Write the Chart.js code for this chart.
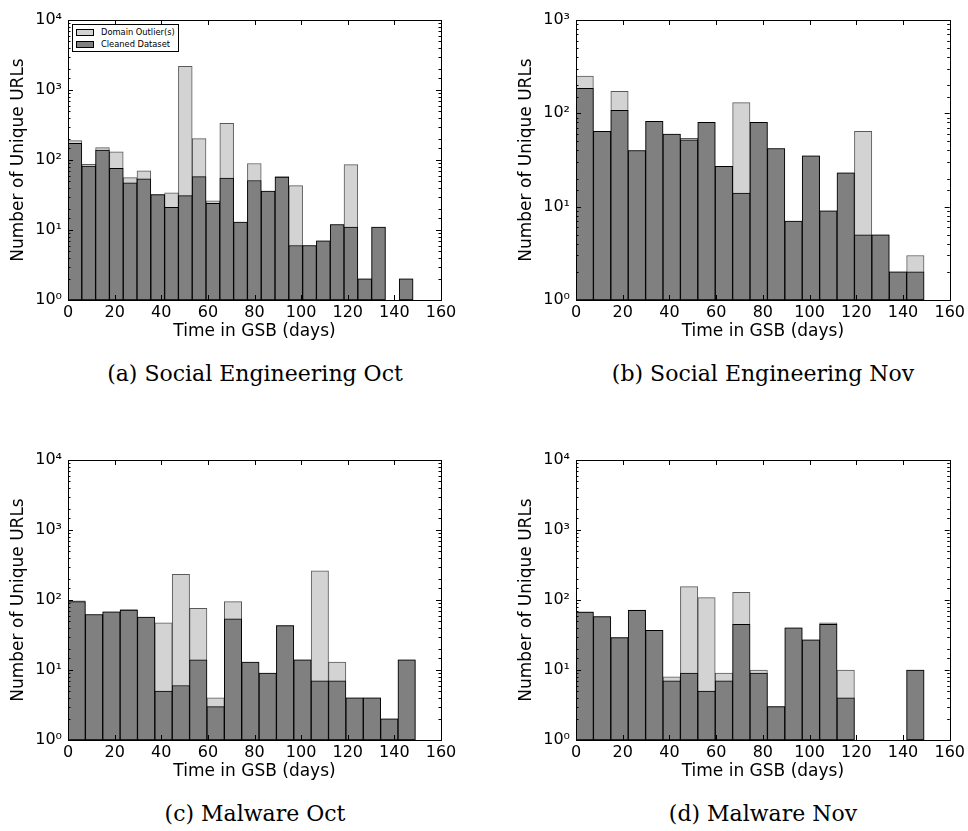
<!DOCTYPE html>
<html>
<head>
<meta charset="utf-8">
<script src="https://cdn.jsdelivr.net/npm/chart.js@4.4.1/dist/chart.umd.min.js"></script>
<style>
  body { margin: 0; width: 968px; height: 831px; background: #fff; position: relative; overflow: hidden; }
  .panel { position: absolute; }
  .caption { position: absolute; width: 500px; text-align: center; font-family: "DejaVu Serif", serif; font-size: 22px; line-height: 22px; color: #000; white-space: nowrap; }
  .legend { position: absolute; left: 72px; top: 24px; width: 105px; height: 26px; border: 1px solid #000; background: #fff;
            font-family: "DejaVu Sans", sans-serif; font-size: 8.3px; color: #000; }
  .legend .row { position: absolute; left: 2px; height: 10px; line-height: 10px; }
  .legend .sw { position: absolute; left: 1px; top: 2px; width: 16px; height: 5px; border: 1px solid #000; }
  .legend .lbl { position: absolute; left: 26px; top: 0; white-space: nowrap; }
</style>
</head>
<body>

<div class="panel" style="left:0;top:0"><canvas id="chartA" width="484" height="350"></canvas></div>
<div class="panel" style="left:508px;top:0"><canvas id="chartB" width="460" height="350"></canvas></div>
<div class="panel" style="left:0;top:440px"><canvas id="chartC" width="484" height="350"></canvas></div>
<div class="panel" style="left:508px;top:440px"><canvas id="chartD" width="460" height="350"></canvas></div>

<div class="legend">
  <div class="row" style="top:2px"><span class="sw" style="background:#d3d3d3"></span><span class="lbl">Domain Outlier(s)</span></div>
  <div class="row" style="top:14px"><span class="sw" style="background:#808080"></span><span class="lbl">Cleaned Dataset</span></div>
</div>

<div class="caption" style="left:5px;top:363px">(a) Social Engineering Oct</div>
<div class="caption" style="left:513px;top:363px">(b) Social Engineering Nov</div>
<div class="caption" style="left:5px;top:803px">(c) Malware Oct</div>
<div class="caption" style="left:513px;top:803px">(d) Malware Nov</div>

<script>
// histogram bins: [first edge, last edge] in days, bin count = length of the value arrays
const rangeA = [0, 148];
const rangeB = [0, 149];
const rangeC = [0, 149];
const rangeD = [0, 149];

// (a) Social Engineering Oct
const outlierA = [189, 87, 150, 131, 56, 70, 32, 34, 2180, 202, 26, 334, 13, 89, 36, 58, 43, 6, 7, 12, 86, 2, 11, null, 2];
const cleanA   = [173, 82, 139, 76, 47, 54, 32, 21, 31, 58, 24, 55, 13, 51, 36, 57, 6, 6, 7, 12, 11, 2, 11, null, 2];

// (b) Social Engineering Nov
const outlierB = [251, 64, 172, 40, 82, 60, 54, 80, 27, 130, 80, 42, 7, 35, 9, 23, 64, 5, 2, 3];
const cleanB   = [185, 64, 108, 40, 82, 60, 52, 80, 27, 14, 80, 42, 7, 35, 9, 23, 5, 5, 2, 2];

// (c) Malware Oct
const outlierC = [97, 62, 68, 73, 57, 47, 233, 76, 4, 95, 13, 9, 43, 14, 260, 13, 4, 4, 2, 14];
const cleanC   = [95, 62, 68, 72, 57, 5, 6, 14, 3, 54, 13, 9, 43, 14, 7, 7, 4, 4, 2, 14];

// (d) Malware Nov
const outlierD = [68, 58, 29, 72, 37, 8, 155, 108, 9, 129, 10, 3, 40, 27, 47, 10, 1, null, 1, 10];
const cleanD   = [67, 58, 29, 71, 37, 7, 9, 5, 7, 45, 9, 3, 40, 27, 45, 4, null, null, null, 10];

const xTicks = [0, 20, 40, 60, 80, 100, 120, 140, 160];
const seriesNames = ['Domain Outlier(s)', 'Cleaned Dataset'];
const sup = ['\u2070', '\u00b9', '\u00b2', '\u00b3', '\u2074'];

function isPow10(v) {
  const e = Math.log10(v);
  return Math.abs(e - Math.round(e)) < 1e-9;
}

// matplotlib-like frame with inward ticks on all four sides
const innerTicks = {
  id: 'innerTicks',
  afterDatasetsDraw(chart) {
    const { ctx, chartArea: a, scales: { x, y } } = chart;
    ctx.save();
    ctx.strokeStyle = '#000';
    ctx.lineWidth = 1;
    ctx.beginPath();
    x.ticks.forEach(t => {
      const px = Math.round(x.getPixelForValue(t.value)) + 0.5;
      ctx.moveTo(px, a.top); ctx.lineTo(px, a.top + 5);
      ctx.moveTo(px, a.bottom); ctx.lineTo(px, a.bottom - 5);
    });
    y.ticks.forEach(t => {
      const py = Math.round(y.getPixelForValue(t.value)) + 0.5;
      const len = isPow10(t.value) ? 5 : 2.5;
      ctx.moveTo(a.left, py); ctx.lineTo(a.left + len, py);
      ctx.moveTo(a.right, py); ctx.lineTo(a.right - len, py);
    });
    ctx.stroke();
    ctx.strokeRect(Math.round(a.left) + 0.5, Math.round(a.top) + 0.5,
                   Math.round(a.right - a.left), Math.round(a.bottom - a.top));
    ctx.restore();
  }
};

function makeHist(id, range, outliers, cleaned, yMax, padRight) {
  const w = (range[1] - range[0]) / cleaned.length;
  const toPoints = arr => arr.map((v, i) => ({ x: range[0] + (i + 0.5) * w, y: v }));
  new Chart(document.getElementById(id), {
    type: 'bar',
    data: {
      datasets: [
        { label: seriesNames[0], data: toPoints(outliers), order: 1,
          backgroundColor: '#d3d3d3', borderColor: 'rgba(0,0,0,0.65)', borderWidth: 1, borderSkipped: false },
        { label: seriesNames[1], data: toPoints(cleaned), order: 0,
          backgroundColor: '#808080', borderColor: '#000', borderWidth: 1, borderSkipped: false }
      ]
    },
    options: {
      responsive: false,
      animation: false,
      events: [],
      layout: { padding: { left: 0, top: 20, right: padRight, bottom: 0 } },
      datasets: { bar: { grouped: false, barPercentage: 1, categoryPercentage: 1 } },
      plugins: { legend: { display: false }, tooltip: { enabled: false } },
      scales: {
        x: {
          type: 'linear', min: 0, max: 160, offset: false,
          grid: { display: false, drawTicks: false },
          border: { display: false },
          afterBuildTicks: s => { s.ticks = xTicks.map(v => ({ value: v })); },
          afterFit: s => { s.height = 50; },
          ticks: { autoSkip: false, maxRotation: 0, padding: 3, color: '#000',
                   font: { family: 'DejaVu Sans', size: 16 } },
          title: { display: true, text: 'Time in GSB (days)', color: '#000',
                   padding: { top: 0, bottom: 8 }, font: { family: 'DejaVu Sans', size: 17 } }
        },
        y: {
          type: 'logarithmic', min: 1, max: yMax,
          grid: { display: false, drawTicks: false },
          border: { display: false },
          afterFit: s => { s.width = 68; },
          ticks: {
            autoSkip: false, padding: 6, color: '#000',
            font: { family: 'DejaVu Sans', size: 16 },
            callback: v => isPow10(v) ? '10' + sup[Math.round(Math.log10(v))] : ''
          },
          title: { display: true, text: 'Number of Unique URLs', color: '#000',
                   padding: { top: 8, bottom: 0 }, font: { family: 'DejaVu Sans', size: 17 } }
        }
      }
    },
    plugins: [innerTicks]
  });
}

makeHist('chartA', rangeA, outlierA, cleanA, 10000, 43);
makeHist('chartB', rangeB, outlierB, cleanB, 1000, 18);
makeHist('chartC', rangeC, outlierC, cleanC, 10000, 43);
makeHist('chartD', rangeD, outlierD, cleanD, 10000, 18);
</script>
</body>
</html>
